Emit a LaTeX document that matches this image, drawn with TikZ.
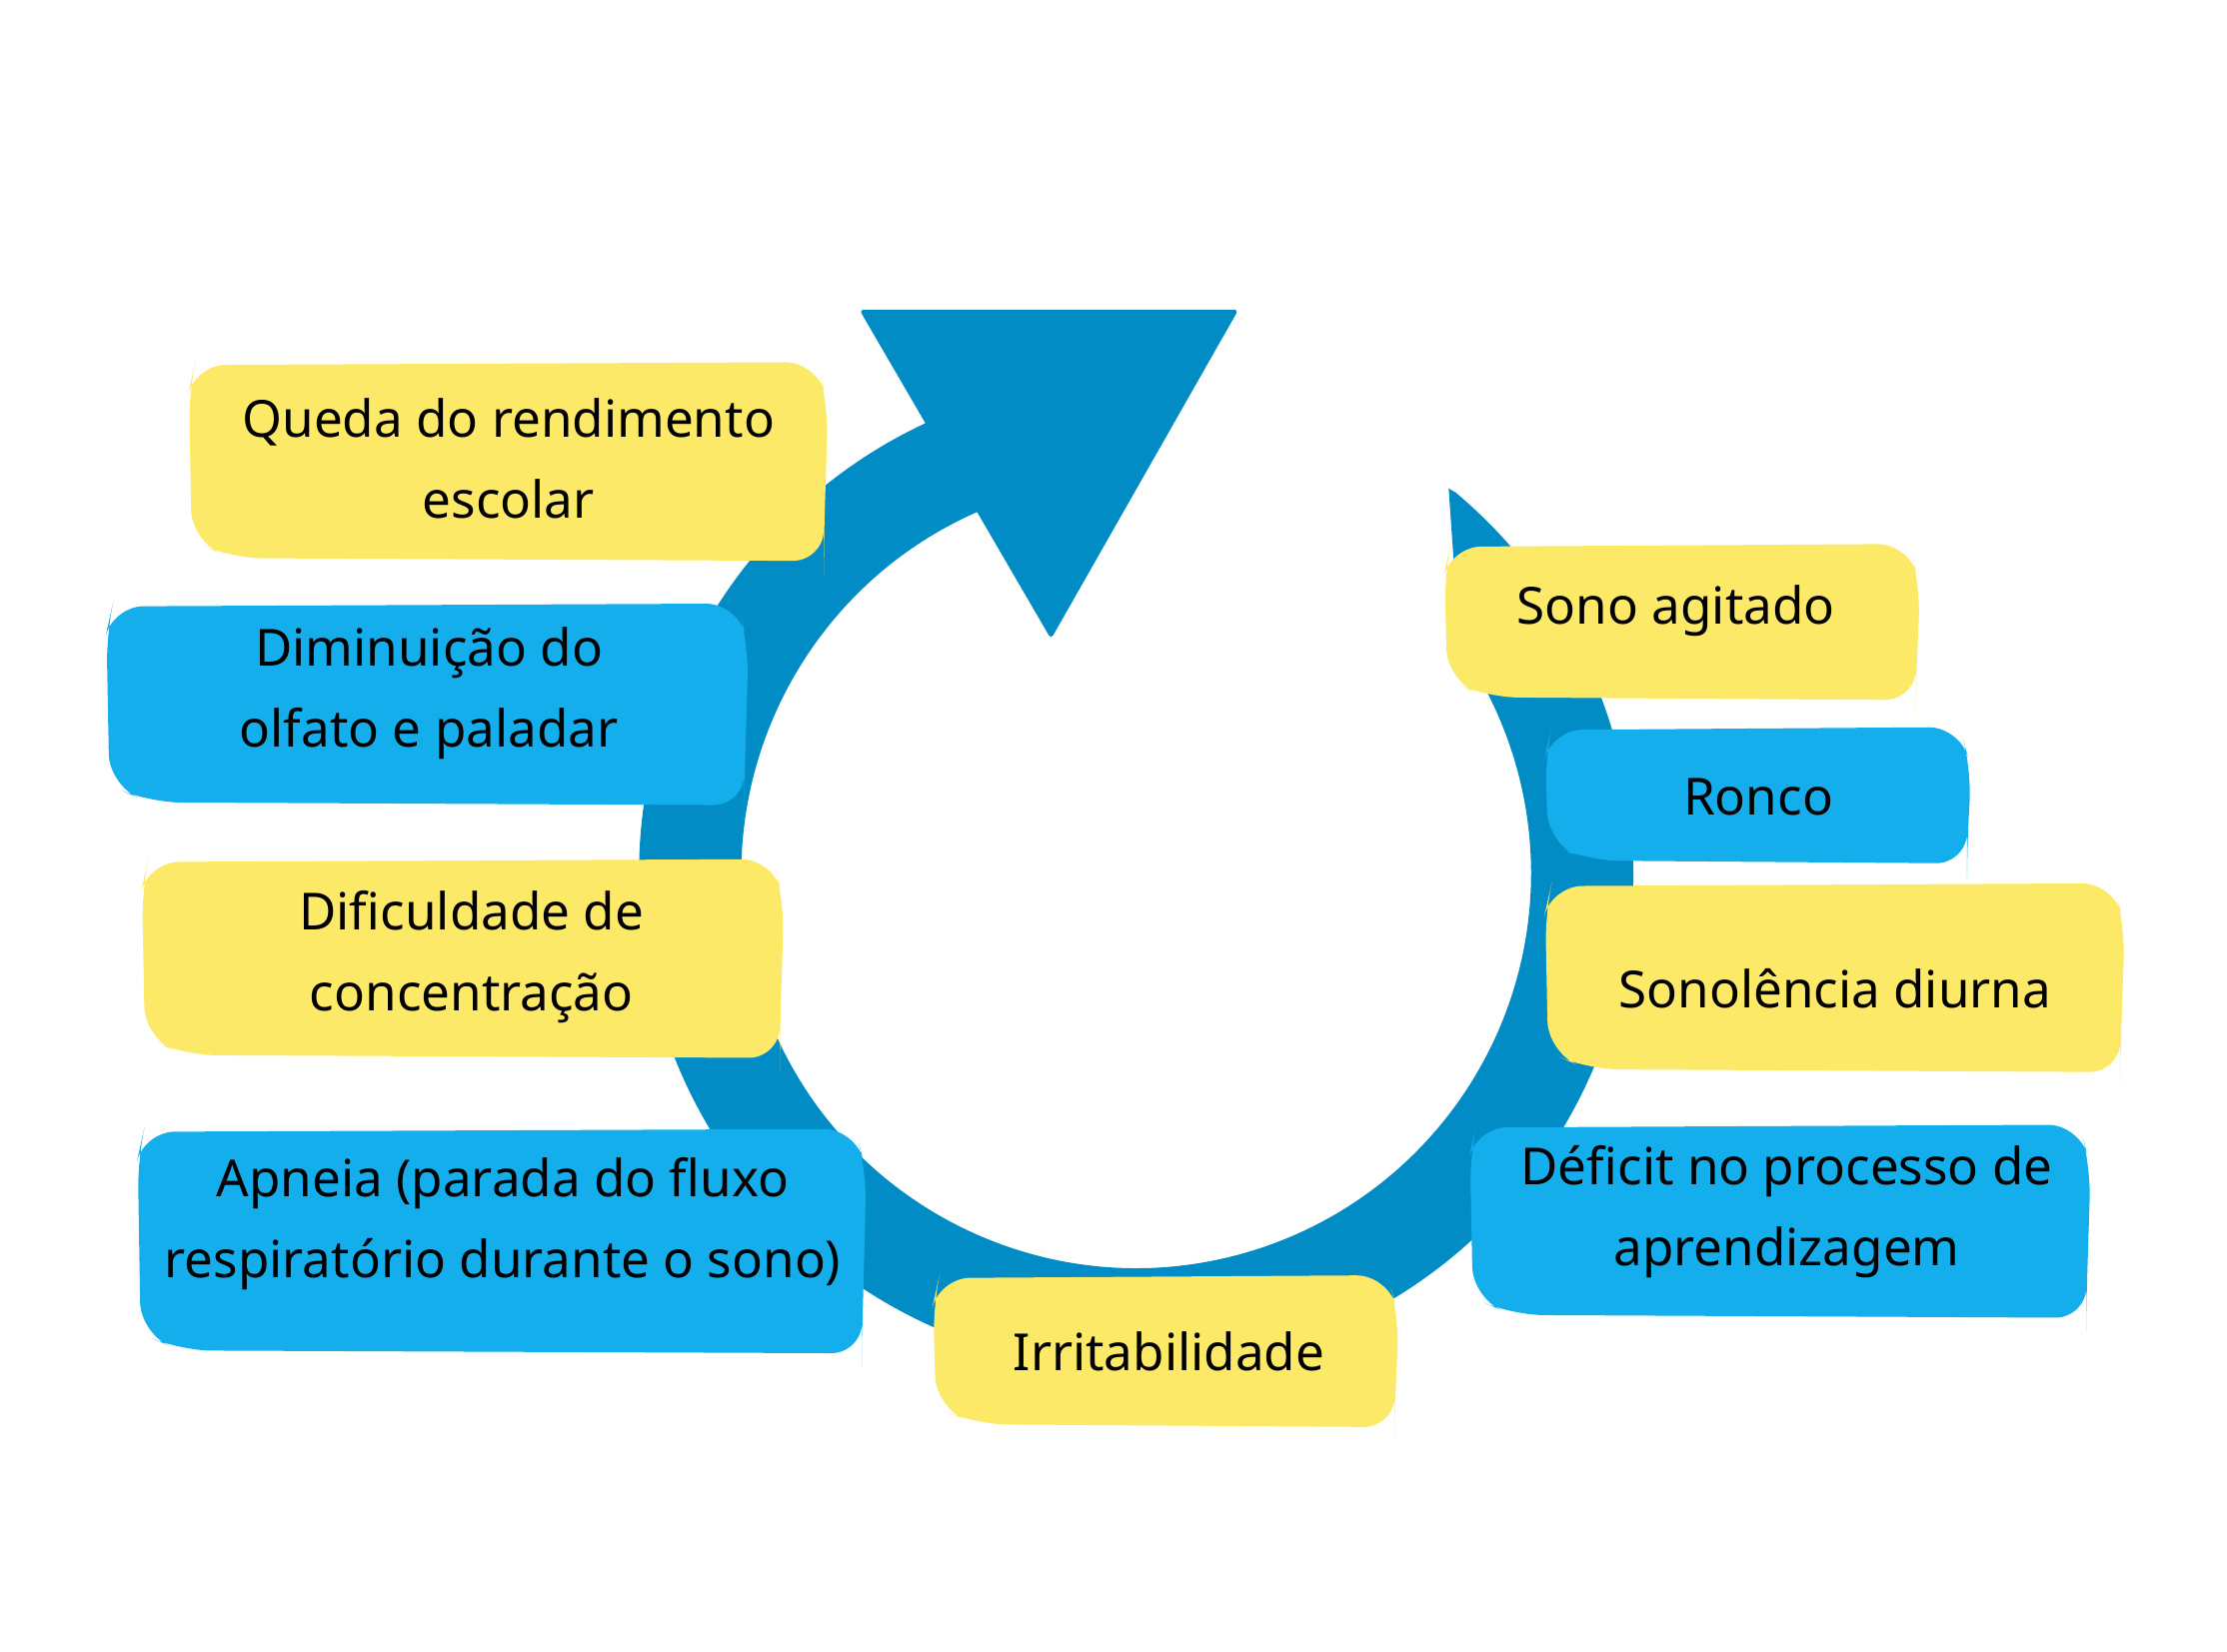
\documentclass[tikz,border=0pt]{standalone}
\usepackage{fontspec}
\usetikzlibrary{calc}
\setmainfont{Noto Sans}
\definecolor{ring}{RGB}{2,140,198}
\definecolor{yel}{RGB}{253,233,104}
\definecolor{blu}{RGB}{21,174,236}
\newcommand{\blob}[5]{%
  \fill[#5,rounded corners=22pt] (#1+4,-#2-2) -- (#3-8,-#2) -- (#3,-#2-30) -- (#3-3,-#4+12) -- (#3-3,-#4) -- (#1+30,-#4+2) -- (#1+2,-#4+14) -- (#1,-#2-20) -- cycle;}
\begin{document}
\begin{tikzpicture}[x=1pt,y=1pt,
  lbl/.style={font=\fontsize{36}{57}\selectfont,align=center,text=black}]
\useasboundingbox (0,0) rectangle (1568,-1163);
% ring
\draw[ring,line width=72pt] (800,-615) ++(108:314) arc[start angle=108,end angle=395,radius=314];
\fill[ring] (800,-615) ++(35:350) arc[start angle=35,end angle=50,radius=350] -- ++(-5,3) -- ($(800,-615)+(35:278)$) -- cycle;
\fill[ring,rounded corners=3pt] (605,-218) -- (872,-218) -- (740,-450) -- cycle;
% boxes
\blob{133}{255}{583}{395}{yel}
\node[lbl] (a) at (358,-323) {Queda do rendimento\\escolar};
\blob{75}{425}{527}{567}{blu}
\node[lbl] (b) at (302,-488) {Diminuição do\\olfato e paladar};
\blob{100}{605}{552}{745}{yel}
\node[lbl] (c) at (332,-674) {Dificuldade de\\concentração};
\blob{97}{795}{610}{953}{blu}
\node[lbl] (d) at (354,-862) {Apneia (parada do fluxo\\respiratório durante o sono)};
\blob{657}{898}{985}{1005}{yel}
\node[lbl] (e) at (823,-952) {Irritabilidade};
\blob{1035}{792}{1472}{928}{blu}
\node[lbl] (f) at (1258,-853) {Déficit no processo de\\aprendizagem};
\blob{1088}{622}{1496}{755}{yel}
\node[lbl] (g) at (1292,-696) {Sonolência diurna};
\blob{1088}{512}{1388}{608}{blu}
\node[lbl] (h) at (1238,-561) {Ronco};
\blob{1017}{383}{1352}{493}{yel}
\node[lbl] (i) at (1180,-430) {Sono agitado};
\end{tikzpicture}
\end{document}
